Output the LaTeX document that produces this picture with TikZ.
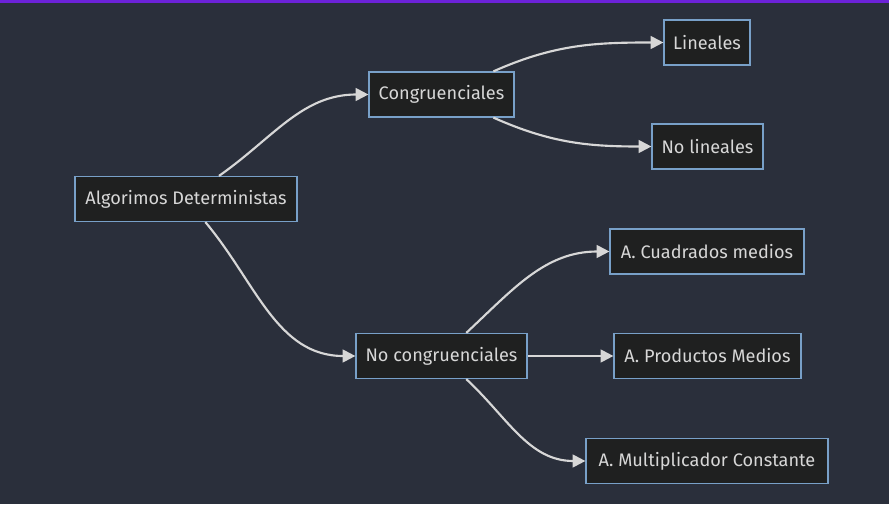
\documentclass[tikz,border=0pt]{standalone}
\usepackage{fontspec}
\setmainfont{Fira Sans}
\usetikzlibrary{arrows.meta}

\definecolor{bgc}{RGB}{42,47,59}
\definecolor{boxfill}{RGB}{31,32,32}
\definecolor{boxline}{RGB}{120,160,200}
\definecolor{txt}{RGB}{215,215,215}
\definecolor{edgec}{RGB}{215,215,215}
\definecolor{topbar}{RGB}{108,34,216}

\tikzset{
	box/.style={draw=boxline, fill=boxfill, text=txt, line width=0.9pt,
		minimum height=33.75pt, inner xsep=5pt, font=\fontsize{13.6}{15}\selectfont},
	link/.style={draw=edgec, line width=1.6pt,
		-{Triangle[length=9.5pt,width=9.5pt,fill=edgec]}}
}

\begin{document}
\begin{tikzpicture}[x=0.75pt, y=0.75pt]
	\fill [bgc] (0,0) rectangle (889,504);
	\fill [topbar] (0,501) rectangle (889,504);
	\useasboundingbox (0,0) rectangle (889,504);
	
	\node [box, minimum width=166.5pt] (algo)   at (186,305)   {Algorimos Deterministas};
	\node [box, minimum width=108.75pt] (cong)  at (441.5,409.5) {Congruenciales};
	\node [box, minimum width=64.5pt] (lin)     at (707,461.5) {Lineales};
	\node [box, minimum width=83.25pt] (nolin)  at (707.5,357.5) {No lineales};
	\node [box, minimum width=145.5pt] (cuad)   at (707,252.5) {A. Cuadrados medios};
	\node [box, minimum width=128.25pt] (nocong) at (441.5,148) {No congruenciales};
	\node [box, minimum width=140.25pt] (prod)  at (707.5,148) {A. Productos Medios};
	\node [box, minimum width=181.5pt] (mult)   at (707,43)    {A. Multiplicador Constante};
	
	\path [link]
	(algo) edge [out=35, in=180]    (cong)
	(algo) edge [out=-50, in=180]   (nocong)
	(cong) edge [out=24, in=180]    (lin)
	(cong) edge [out=-24, in=180]   (nolin)
	(nocong) edge [out=43, in=180]  (cuad)
	(nocong) edge                   (prod)
	(nocong) edge [out=-43, in=180] (mult);
\end{tikzpicture}
\end{document}
